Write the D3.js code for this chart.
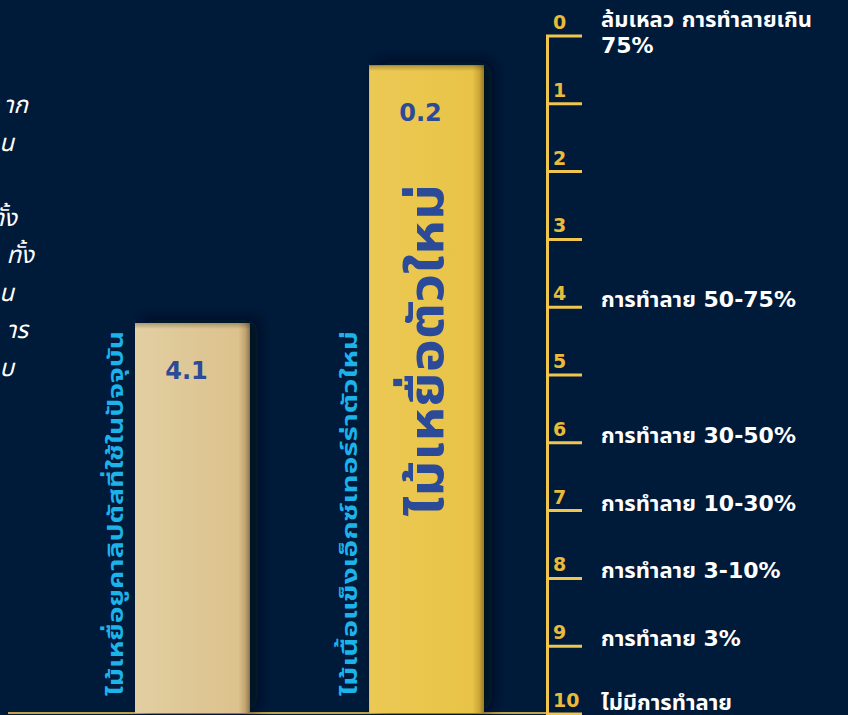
<!DOCTYPE html>
<html>
<head>
<meta charset="utf-8">
<script src="https://cdn.jsdelivr.net/npm/d3@7"></script>
<style>
  html, body { margin: 0; padding: 0; background: #001a3a; overflow: hidden; }
  svg { display: block; }
</style>
</head>
<body>
<svg id="chart"></svg>
<script>
const W = 848, H = 715;

// data
const categories = ["ไม้เหยื่อยูคาลิปตัสที่ใช้ในปัจจุบัน", "ไม้เนื้อแข็งเอ็กซ์เทอร์ร่าตัวใหม่"];
const values = [4.1, 0.2];
const tickValues = [0, 1, 2, 3, 4, 5, 6, 7, 8, 9, 10];
const ratingValues = [0, 4, 6, 7, 8, 9, 10];
const ratingLabels = [
    ["ล้มเหลว การทำลายเกิน", "75%"],
    ["การทำลาย 50-75%"],
    ["การทำลาย 30-50%"],
    ["การทำลาย 10-30%"],
    ["การทำลาย 3-10%"],
    ["การทำลาย 3%"],
    ["ไม่มีการทำลาย"],
];
const highlightLabel = "ไม้เหยื่อตัวใหม่";
// tail ends of a paragraph that runs off the left edge
const noteLines = ["าก", "น", "", "ทั้ง", "ทั้ง", "น", "าร", "บ"];
const noteEnds = [28, 14, 0, 17, 34, 14, 28, 14];

const FONT = "Tahoma, 'DejaVu Sans', 'Noto Sans Thai', Loma, sans-serif";
const GOLD = "#f0c64e";
const BLUE = "#2b4a98";

const svg = d3.select("#chart").attr("width", W).attr("height", H);

svg.append("rect").attr("width", W).attr("height", H).attr("fill", "#001a3a");

const defs = svg.append("defs");

let shadow = defs.append("filter").attr("id", "shadow")
    .attr("x", "-20%").attr("y", "-10%").attr("width", "160%").attr("height", "130%");
shadow.append("feDropShadow")
    .attr("dx", 8).attr("dy", -3).attr("stdDeviation", 7)
    .attr("flood-color", "#000814").attr("flood-opacity", 0.85);

function barGradient(id, stops) {
    let g = defs.append("linearGradient").attr("id", id)
        .attr("x1", "0%").attr("x2", "100%").attr("y1", "0%").attr("y2", "0%");
    stops.forEach(s => g.append("stop").attr("offset", s[0]).attr("stop-color", s[1]));
}
barGradient("wood", [["0%", "#e2cfa2"], ["45%", "#dfc897"], ["90%", "#dcc28d"], ["96%", "#c0a36f"], ["100%", "#8d7650"]]);
barGradient("gold", [["0%", "#ebc954"], ["50%", "#eac64d"], ["90%", "#e8c347"], ["96%", "#c9a535"], ["100%", "#977a25"]]);

let topShade = defs.append("linearGradient").attr("id", "topShade")
    .attr("x1", "0%").attr("x2", "0%").attr("y1", "0%").attr("y2", "100%");
topShade.append("stop").attr("offset", "0%").attr("stop-color", "#000").attr("stop-opacity", 0.25);
topShade.append("stop").attr("offset", "100%").attr("stop-color", "#000").attr("stop-opacity", 0);

// scales: the rating ruler and the bar heights were drawn slightly differently
const y = d3.scaleLinear().domain([0, 10]).range([36, 714]);
const yBar = d3.scaleLinear().domain([0, 10]).range([52, 713]);
const x = d3.scaleBand().domain(categories).range([135, 484]).paddingInner(0.509).paddingOuter(0);

// left paragraph fragments
svg.append("g").selectAll("text")
    .data(noteLines)
    .enter()
    .append("text")
    .attr("x", (d, i) => noteEnds[i])
    .attr("y", (d, i) => 113 + i * 37.5)
    .attr("text-anchor", "end")
    .attr("fill", "#ffffff")
    .style("font-family", FONT)
    .style("font-style", "italic")
    .style("font-size", "24px")
    .text(d => d);

// baseline
svg.append("line")
    .attr("x1", 8).attr("x2", 547)
    .attr("y1", yBar(10)).attr("y2", yBar(10))
    .attr("stroke", GOLD).attr("stroke-width", 2).attr("opacity", 0.8);

// bars
let bars = svg.append("g").selectAll("g.bar")
    .data(values)
    .enter()
    .append("g")
    .classed("bar", true);

bars.append("rect")
    .attr("x", (d, i) => x(categories[i]))
    .attr("y", d => yBar(d))
    .attr("width", x.bandwidth())
    .attr("height", d => yBar(10) - yBar(d))
    .attr("fill", (d, i) => i == 0 ? "url(#wood)" : "url(#gold)")
    .attr("filter", "url(#shadow)");

bars.append("rect")
    .attr("x", (d, i) => x(categories[i]))
    .attr("y", d => yBar(d))
    .attr("width", x.bandwidth())
    .attr("height", 6)
    .attr("fill", "url(#topShade)");

bars.append("text")
    .attr("x", (d, i) => x(categories[i]) + x.bandwidth() / 2 - 6)
    .attr("y", d => yBar(d) + 56)
    .attr("text-anchor", "middle")
    .attr("fill", BLUE)
    .style("font-family", FONT)
    .style("font-weight", "bold")
    .style("font-size", "24px")
    .text(d => d.toFixed(1));

// rotated category names
svg.append("g").selectAll("text")
    .data(categories)
    .enter()
    .append("text")
    .attr("transform", d => `translate(${x(d) - 12},${yBar(10) - 17}) rotate(-90)`)
    .attr("fill", "#1cb2ea")
    .attr("textLength", 365)
    .attr("lengthAdjust", "spacingAndGlyphs")
    .style("font-family", FONT)
    .style("font-weight", "bold")
    .style("font-size", "22px")
    .text(d => d);

// big label inside the new bar
svg.append("text")
    .attr("transform", `translate(${x(categories[1]) + x.bandwidth() / 2 + 16},${yBar(0.2) + 451}) rotate(-90)`)
    .attr("fill", BLUE)
    .attr("textLength", 332)
    .attr("lengthAdjust", "spacingAndGlyphs")
    .style("font-family", FONT)
    .style("font-weight", "bold")
    .style("font-size", "48px")
    .text(highlightLabel);

// rating scale on the right
let axis = svg.append("g");
axis.append("line")
    .attr("x1", 547.5).attr("x2", 547.5)
    .attr("y1", y(0) - 1).attr("y2", y(10) + 1)
    .attr("stroke", GOLD).attr("stroke-width", 3);

axis.selectAll("line.tick")
    .data(tickValues)
    .enter()
    .append("line")
    .classed("tick", true)
    .attr("x1", 546).attr("x2", 582)
    .attr("y1", d => y(d)).attr("y2", d => y(d))
    .attr("stroke", GOLD).attr("stroke-width", 3);

axis.selectAll("text.num")
    .data(tickValues)
    .enter()
    .append("text")
    .classed("num", true)
    .attr("x", 553)
    .attr("y", d => y(d) - 7)
    .attr("fill", "#e8bb3a")
    .style("font-family", FONT)
    .style("font-weight", "bold")
    .style("font-size", "19px")
    .text(d => d);

let rl = axis.selectAll("text.rating")
    .data(ratingValues)
    .enter()
    .append("text")
    .classed("rating", true)
    .attr("x", 601)
    .attr("y", (d, i) => i == 0 ? y(d) - 9 : Math.min(y(d), 710))
    .attr("fill", "#ffffff")
    .style("font-family", FONT)
    .style("font-weight", "bold")
    .style("font-size", "22px");

rl.selectAll("tspan")
    .data((d, i) => ratingLabels[i])
    .enter()
    .append("tspan")
    .attr("x", 601)
    .attr("dy", (d, j) => j == 0 ? 0 : 26)
    .text(d => d);
</script>
</body>
</html>
